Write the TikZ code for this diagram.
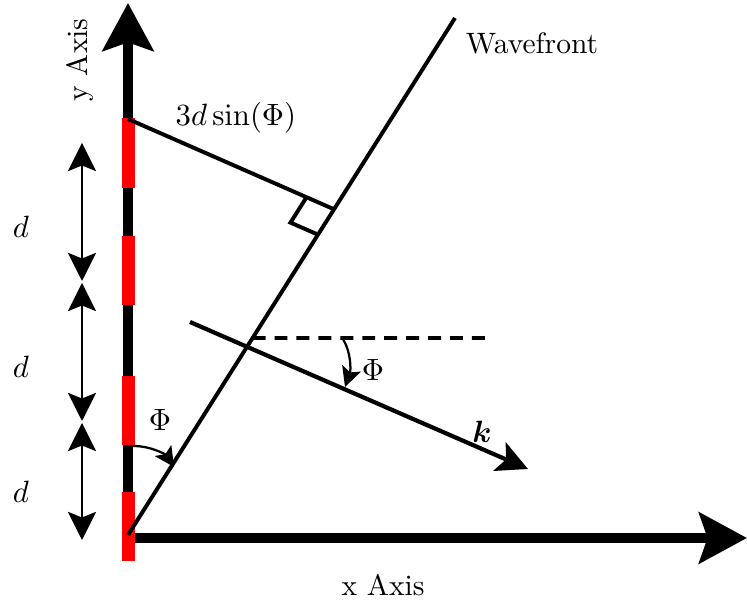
\documentclass[tikz,border=0pt]{standalone}
\usepackage{amsmath}
\usepackage{bm}
\usetikzlibrary{arrows.meta, calc}

\begin{document}
\begin{tikzpicture}[
    x=0.0125cm, y=-0.0125cm,
    every node/.style={font=\fontsize{10.5}{12.6}\selectfont},
    axis/.style={line width=3.9pt, -{Stealth[length=17pt, width=18pt, inset=3pt]}},
    redseg/.style={fill=red, draw=none},
    ray/.style={line width=1.4pt},
    karrow/.style={line width=1.5pt, -{Stealth[length=11pt, width=11pt, inset=2.5pt]}},
    darrow/.style={line width=0.7pt, {Stealth[length=10pt, width=10pt, inset=2pt]}-{Stealth[length=10pt, width=10pt, inset=2pt]}},
    anglearrow/.style={line width=0.8pt, -{Stealth[length=7pt, width=7pt, inset=1.5pt]}},
    dashline/.style={line width=1.4pt, dash pattern=on 4.6pt off 3.2pt}
]
\useasboundingbox (0,0) rectangle (747,606);

% === Key points ===
\coordinate (origin) at (128,538);
\coordinate (ytip) at (128,3);
\coordinate (xtip) at (747,538);
\coordinate (wfbot) at (128,535);
\coordinate (wftop) at (455,18);
\coordinate (elem) at (128,119);
\coordinate (foot) at ($(wfbot)!0.63!(wftop)$);
\coordinate (dstart) at ($(wfbot)!0.381!(wftop)$);
\coordinate (dend) at (487,338);
\coordinate (kstart) at (190,322);
\coordinate (kend) at (528,469);

% === Axes ===
\draw[axis] (origin) -- (ytip);
\draw[axis] (origin) -- (xtip);

% === Array elements ===
\fill[redseg] (122,118) rectangle (135,188);
\fill[redseg] (122,236) rectangle (135,305);
\fill[redseg] (122,376) rectangle (135,445);
\fill[redseg] (122,492) rectangle (135,561);

% === Wavefront and path difference ===
\draw[ray] (wfbot) -- (wftop);
\draw[ray] (elem) -- (foot);
\coordinate (ra1) at ($(foot)!0.375cm!(elem)$);
\coordinate (ra2) at ($(foot)!0.375cm!(wfbot)$);
\draw[line width=1.4pt] (ra1) -- ($(ra1)+(ra2)-(foot)$) -- (ra2);

% === Wave vector ===
\draw[karrow] (kstart) -- (kend);
\draw[dashline] (dstart) -- (dend);

% === Angles ===
\draw[anglearrow] (343,339) .. controls (351,352) and (351,370) .. (345,387);
\draw[anglearrow] (133,446) .. controls (152,446) and (166,455) .. (174,467);

% === Spacing arrows ===
\draw[darrow] (82,143) -- (82,281);
\draw[darrow] (82,283) -- (82,421);
\draw[darrow] (82,423) -- (82,540);

% === Labels ===
\node (d1) at (21,227) {$d$};
\node (d2) at (21,367) {$d$};
\node (d3) at (21,492) {$d$};
\node (phik) at (373,370) {$\Phi$};
\node (phiy) at (160,420) {$\Phi$};
\node (klabel) at (482,432) {$\bm{k}$};
\node (pathdiff) at (236,118) {$3d\sin(\Phi)$};
\node (wflabel) at (532,43) {Wavefront};
\node[rotate=90] (ylabel) at (80,60) {y Axis};
\node (xlabel) at (383,585) {x Axis};

\end{tikzpicture}
\end{document}
